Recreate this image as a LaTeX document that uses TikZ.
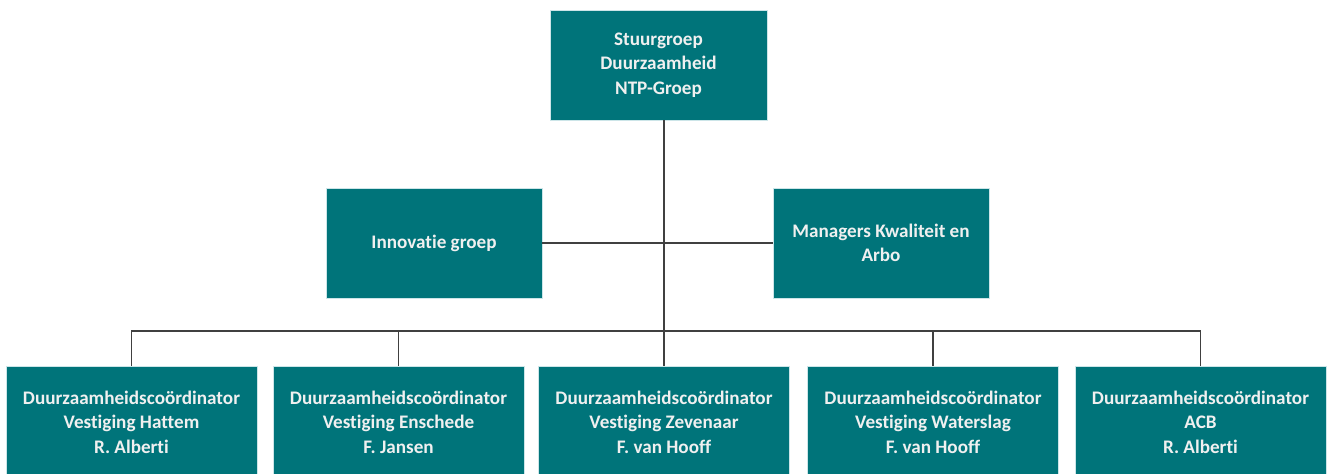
\documentclass[tikz,border=0pt]{standalone}
\usepackage{xcolor}
\usepackage{fontspec}
\setmainfont{Carlito}[Ligatures={NoCommon,NoContextual}]
\usepackage{tikz}
\usetikzlibrary{positioning, calc}
\definecolor{ntpteal}{rgb}{0.0, 0.455, 0.478}
\definecolor{ntpedge}{rgb}{0.80, 0.90, 0.91}
\definecolor{linegray}{rgb}{0.25, 0.25, 0.25}

\begin{document}
\begin{tikzpicture}[
    orgbox/.style={fill=ntpteal, draw=ntpedge, line width=0.4pt, text=white!94!black,
      align=center, inner sep=0pt,
      font=\fontsize{10.9}{13.9}\selectfont\bfseries},
    link/.style={draw=linegray, line width=1.1pt}
  ]
    \useasboundingbox (0,0) rectangle (26.62,9.48);
    % top and staff level
    \node[orgbox, minimum width=4.34cm, minimum height=2.2cm] (stuur) at (13.17,8.18)
      {Stuurgroep\\Duurzaamheid\\NTP-Groep};
    \node[orgbox, minimum width=4.32cm, minimum height=2.2cm] (innovatie) at (8.68,4.62)
      {Innovatie groep};
    \node[orgbox, minimum width=4.32cm, minimum height=2.2cm] (managers) at (17.62,4.62)
      {Managers Kwaliteit en\\Arbo};
    % coordinators
    \node[orgbox, minimum width=5.02cm, minimum height=2.24cm] (hattem) at (2.63,1.04)
      {Duurzaamheidscoördinator\\Vestiging Hattem\\R. Alberti};
    \node[orgbox, minimum width=5.02cm, minimum height=2.24cm] (enschede) at (7.97,1.04)
      {Duurzaamheidscoördinator\\Vestiging Enschede\\F. Jansen};
    \node[orgbox, minimum width=5.02cm, minimum height=2.24cm] (zevenaar) at (13.28,1.04)
      {Duurzaamheidscoördinator\\Vestiging Zevenaar\\F. van Hooff};
    \node[orgbox, minimum width=5.02cm, minimum height=2.24cm] (waterslag) at (18.66,1.04)
      {Duurzaamheidscoördinator\\Vestiging Waterslag\\F. van Hooff};
    \node[orgbox, minimum width=5.02cm, minimum height=2.24cm] (acb) at (24.01,1.04)
      {Duurzaamheidscoördinator\\ACB\\R. Alberti};

    \coordinate (bus) at (13.28,2.86);
    \path[link] (stuur.south -| bus) -- (bus);
    \path[link] (innovatie.east) -- (managers.west);
    \path[link] (hattem.north) -- (hattem.north |- bus) -- (acb.north |- bus) -- (acb.north);
    \path[link] (enschede.north) -- (enschede.north |- bus);
    \path[link] (zevenaar.north) -- (bus);
    \path[link] (waterslag.north) -- (waterslag.north |- bus);
  \end{tikzpicture}
\end{document}
